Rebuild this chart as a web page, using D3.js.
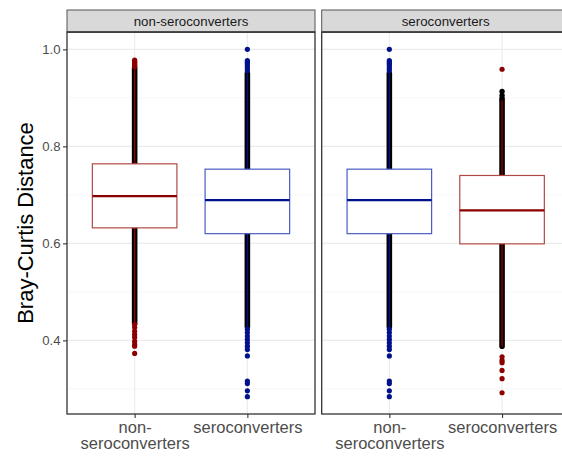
<!DOCTYPE html>
<html>
<head>
<meta charset="utf-8">
<script src="https://cdn.jsdelivr.net/npm/d3@7"></script>
<style>
  html, body { margin: 0; padding: 0; background: #fff; }
  svg { display: block; }
  text { font-family: "Liberation Sans", Arial, sans-serif; }
</style>
</head>
<body>
<svg id="chart" width="562" height="456"></svg>
<script>
// ---- data ----
const facets = ["non-seroconverters", "seroconverters"];
const groups = ["non-seroconverters", "seroconverters"];
const groupLabels = [["non-", "seroconverters"], ["seroconverters"]];
const yTicks = [0.4, 0.6, 0.8, 1.0];
const yMinor = [0.3, 0.5, 0.7, 0.9];
// comparison type per facet, per group (within-group vs between-group)
const comparison = [["within", "between"], ["between", "within"]];

// box statistics per facet, per group
const q1 = [[0.632, 0.620], [0.620, 0.599]];
const medians = [[0.6975, 0.689], [0.689, 0.668]];
const q3 = [[0.764, 0.753], [0.753, 0.740]];
const whiskerLow = [[0.435, 0.428], [0.428, 0.388]];
const whiskerHigh = [[0.962, 0.950], [0.950, 0.895]];
// individual (black) points beyond the dense column
const extraPoints = [[[], []], [[], [0.913, 0.905, 0.899]]];
// outliers per facet, per group
const outliers = [
  [
    [0.978, 0.976, 0.974, 0.972, 0.970, 0.968, 0.966, 0.964,
     0.433, 0.427, 0.419, 0.412, 0.406, 0.398, 0.392, 0.388, 0.373],
    [1.000, 0.977, 0.974, 0.971, 0.968, 0.964, 0.960, 0.956,
     0.423, 0.416, 0.409, 0.402, 0.395, 0.388, 0.381, 0.368, 0.316, 0.311, 0.296, 0.284]
  ],
  [
    [1.000, 0.977, 0.974, 0.971, 0.968, 0.964, 0.960, 0.956,
     0.423, 0.416, 0.409, 0.402, 0.395, 0.388, 0.381, 0.368, 0.316, 0.311, 0.296, 0.284],
    [0.959, 0.366, 0.359, 0.354, 0.338, 0.321, 0.292]
  ]
];
const colors = { within: "#8b0000", between: "#00128b" };
const boxColors = { within: "#b04a45", between: "#4a5cc4" };

// ---- layout ----
const svg = d3.select("#chart");
const panelTop = 32, panelBottom = 414, stripTop = 10;
const panelW = 248;
const panelLefts = [67, 321.7];

const y = d3.scaleLinear().domain([0.2482, 1.0358]).range([panelBottom, panelTop]);

facets.forEach((facet, fi) => {
  const left = panelLefts[fi];
  const x = d3.scalePoint().domain(groups).range([left, left + panelW]).padding(0.6);
  const step = x.step();
  const g = svg.append("g");

  // minor grid
  g.selectAll(".minor").data(yMinor).join("line")
    .attr("x1", left).attr("x2", left + panelW)
    .attr("y1", d => y(d)).attr("y2", d => y(d))
    .attr("stroke", "#f2f2f2").attr("stroke-width", 0.6);
  // major grid
  g.selectAll(".major").data(yTicks).join("line")
    .attr("x1", left).attr("x2", left + panelW)
    .attr("y1", d => y(d)).attr("y2", d => y(d))
    .attr("stroke", "#ebebeb").attr("stroke-width", 1.1);
  g.selectAll(".vgrid").data(groups).join("line")
    .attr("x1", d => x(d)).attr("x2", d => x(d))
    .attr("y1", panelTop).attr("y2", panelBottom)
    .attr("stroke", "#ebebeb").attr("stroke-width", 1.1);

  groups.forEach((grp, gi) => {
    const cx = x(grp);
    const kind = comparison[fi][gi];
    const col = colors[kind];
    // dense black point column
    g.append("line")
      .attr("x1", cx).attr("x2", cx)
      .attr("y1", y(whiskerLow[fi][gi])).attr("y2", y(whiskerHigh[fi][gi]))
      .attr("stroke", "#000").attr("stroke-width", 5.6).attr("stroke-linecap", "round");
    g.selectAll(null).data(extraPoints[fi][gi]).join("circle")
      .attr("cx", cx).attr("cy", d => y(d)).attr("r", 2.7).attr("fill", "#000");
    // whisker lines
    g.append("line")
      .attr("x1", cx).attr("x2", cx)
      .attr("y1", y(whiskerLow[fi][gi])).attr("y2", y(q1[fi][gi]))
      .attr("stroke", col).attr("stroke-width", 1.4);
    g.append("line")
      .attr("x1", cx).attr("x2", cx)
      .attr("y1", y(q3[fi][gi])).attr("y2", y(whiskerHigh[fi][gi]))
      .attr("stroke", col).attr("stroke-width", 1.4);
    // box
    const bw = step * 0.75;
    g.append("rect")
      .attr("x", cx - bw / 2).attr("width", bw)
      .attr("y", y(q3[fi][gi])).attr("height", y(q1[fi][gi]) - y(q3[fi][gi]))
      .attr("fill", "#fff").attr("stroke", boxColors[kind]).attr("stroke-width", 1.2);
    g.append("line")
      .attr("x1", cx - bw / 2).attr("x2", cx + bw / 2)
      .attr("y1", y(medians[fi][gi])).attr("y2", y(medians[fi][gi]))
      .attr("stroke", col).attr("stroke-width", 2.3);
    // outliers
    g.selectAll(null).data(outliers[fi][gi]).join("circle")
      .attr("cx", cx).attr("cy", d => y(d)).attr("r", 2.6).attr("fill", col);
  });

  // panel border
  g.append("rect").attr("x", left).attr("y", panelTop).attr("width", panelW)
    .attr("height", panelBottom - panelTop)
    .attr("fill", "none").attr("stroke", "#333").attr("stroke-width", 1.3);
  // strip
  g.append("rect").attr("x", left).attr("y", stripTop).attr("width", panelW)
    .attr("height", panelTop - stripTop)
    .attr("fill", "#d9d9d9").attr("stroke", "#555").attr("stroke-width", 1);
  g.append("line").attr("x1", left).attr("x2", left + panelW)
    .attr("y1", panelTop).attr("y2", panelTop).attr("stroke", "#333").attr("stroke-width", 1.3);
  g.append("text").attr("x", left + panelW / 2).attr("y", (stripTop + panelTop) / 2 + 4.7)
    .attr("text-anchor", "middle").attr("font-size", 13.3).attr("fill", "#1a1a1a").text(facet);

  // x axis
  const xAxis = g.append("g").attr("transform", `translate(0,${panelBottom})`)
    .call(d3.axisBottom(x).tickSize(4).tickSizeOuter(0).tickFormat(""));
  xAxis.select(".domain").remove();
  xAxis.selectAll(".tick line").attr("stroke", "#333").attr("stroke-width", 1.1);
  xAxis.selectAll(".tick").each(function (d, i) {
    const t = d3.select(this).append("text")
      .attr("text-anchor", "middle").attr("font-size", 16.5).attr("fill", "#4d4d4d");
    groupLabels[i].forEach((line, li) => {
      t.append("tspan").attr("x", 0).attr("y", 18.5 + li * 16.5).text(line);
    });
  });
});

// y axis
const yAxis = svg.append("g").attr("transform", `translate(${panelLefts[0]},0)`)
  .call(d3.axisLeft(y).tickValues(yTicks).tickFormat(d3.format(".1f")).tickSize(4).tickSizeOuter(0));
yAxis.select(".domain").remove();
yAxis.selectAll(".tick line").attr("stroke", "#333").attr("stroke-width", 1.1);
yAxis.selectAll(".tick text").attr("font-size", 13.2).attr("fill", "#4d4d4d")
  .attr("font-family", "'Liberation Sans', Arial, sans-serif").attr("x", -6.5).attr("dy", "0.35em");

// y title
svg.append("text")
  .attr("transform", `translate(33,${(panelTop + panelBottom) / 2}) rotate(-90)`)
  .attr("text-anchor", "middle").attr("font-size", 22).attr("fill", "#000")
  .text("Bray-Curtis Distance");
</script>
</body>
</html>
